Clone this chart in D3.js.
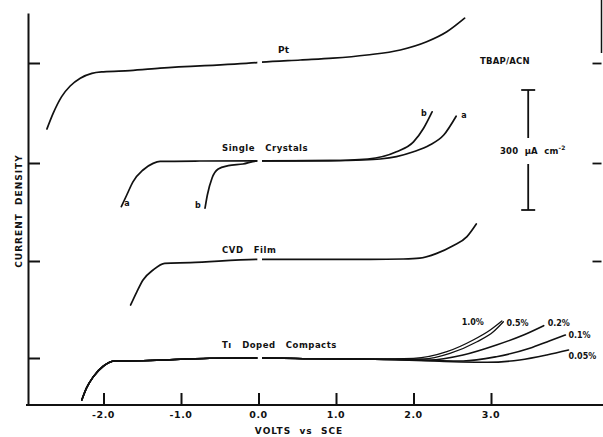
<!DOCTYPE html>
<html><head><meta charset="utf-8">
<script src="https://cdn.jsdelivr.net/npm/d3@7"></script>
<style>
body{margin:0;background:#fff}
svg{display:block}
text{font-family:"DejaVu Sans",Verdana,sans-serif;font-weight:bold;fill:#111;white-space:pre}
</style></head><body>
<svg id="chart" width="603" height="437"></svg>
<script>
// Potential axis, volts vs SCE
const voltTicks = [-2, -1, 0, 1, 2, 3];
const voltTickLabels = ["-2.0", "-1.0", "0.0", "1.0", "2.0", "3.0"];

// Zero-current level of each stacked trace (µA cm^-2 on the shared axis)
const traceOffsets = [855, 605, 360, 117.5];
const rightTickOffsets = [855, 605, 360];

// Pt electrode
const ptVolts   = [-2.73, -2.65, -2.54, -2.43, -2.30, -2.15, -2.00, -1.66, -1.27, -0.02, 0.04, 0.54, 0.96, 1.40, 1.83, 2.17, 2.43, 2.66];
const ptCurrent = [-165, -126, -84, -57.5, -38, -26, -22, -19, -13, 1, 2, 7.5, 12, 20, 32.5, 53, 78, 112];

// Single crystals, samples a and b
const scAVolts   = [-1.77, -1.70, -1.62, -1.49, -1.36, -1.27, -0.76, 0.92, 1.35, 1.57, 1.78, 2.00, 2.21, 2.39, 2.55];
const scACurrent = [-109, -80, -47, -17.5, -1, 4, 5, 6, 7.5, 10, 16, 28, 45, 70, 117];
const scBVolts   = [-0.69, -0.66, -0.60, -0.52, -0.39, -0.20, -0.02, 0.92, 1.41, 1.78, 2.00, 2.13, 2.24];
const scBCurrent = [-113, -80, -38, -15, -6.75, -2.5, 5, 6, 10, 28, 53, 87, 128];

// CVD film
const cvdVolts   = [-1.65, -1.57, -1.49, -1.36, -1.21, -0.88, -0.02, 1.44, 1.87, 2.08, 2.30, 2.51, 2.69, 2.81];
const cvdCurrent = [-110, -77, -47.5, -22.5, -5.75, -4.25, 4, 4, 5, 7, 19, 38, 61, 92.5];

// Ti doped compacts: common cathodic branch, then one anodic tail per doping level
const dopedVolts   = [-2.28, -2.22, -2.13, -2.00, -1.85, -1.49, -0.63, -0.02, 0.80, 1.50];
const dopedCurrent = [-105, -75.5, -46.5, -20, -7.5, -6.75, -0.75, 0, -2, -3];
const dopingLevels = ["1.0%", "0.5%", "0.2%", "0.1%", "0.05%"];
const tailVolts = [
  [2.00, 2.43, 2.77, 2.99, 3.14],
  [2.13, 2.47, 2.82, 3.03, 3.16],
  [2.21, 2.64, 3.07, 3.42, 3.68],
  [2.64, 3.07, 3.50, 3.76, 3.96],
  [2.95, 3.37, 3.72, 4.00]
];
const tailCurrent = [
  [-1, 15.75, 45, 70, 92.5],
  [-2.5, 11.75, 40.75, 65.75, 90.75],
  [-5, 7.5, 32.5, 57.5, 80.75],
  [-7.5, 3.25, 24.25, 43.25, 57.5],
  [-10.75, -5, 7.5, 20]
];

// Scale bar
const scaleBarValue = 300;

const W = 603, H = 437;
const svg = d3.select("#chart");
const ink = "#111";

const x = d3.scaleLinear().domain([-2, 3]).range([103.5, 491]);
const y = d3.scaleLinear().domain([0, 980]).range([405, 13]);

const line = d3.line()
  .x(d => x(d[0]))
  .y(d => y(d[1]))
  .curve(d3.curveMonotoneX);

const pts = (vs, is, off) => vs.map((v, i) => [v, is[i] + off]);

// traces are interrupted at 0 V
const defs = svg.append("defs");
const clip = defs.append("clipPath").attr("id", "zeroGap");
clip.append("rect").attr("x", 0).attr("y", 0).attr("width", x(-0.015)).attr("height", H);
clip.append("rect").attr("x", x(0.045)).attr("y", 0).attr("width", W - x(0.045)).attr("height", H);

// ---- axes ----
// left axis, ticks pointing inward
const leftAxis = svg.append("g")
  .attr("transform", "translate(28,0)")
  .call(d3.axisRight(y).tickValues(traceOffsets).tickSize(12).tickSizeOuter(0).tickFormat(""));
leftAxis.selectAll("path,line").attr("stroke", ink).attr("stroke-width", 2);

// bottom axis line, ticks pointing up
svg.append("line").attr("x1", 26).attr("x2", W).attr("y1", y(0)).attr("y2", y(0))
  .attr("stroke", ink).attr("stroke-width", 2);
const bottomAxis = svg.append("g")
  .attr("transform", `translate(0,${y(0)})`)
  .call(d3.axisTop(x).tickValues(voltTicks).tickSize(12).tickSizeOuter(0).tickFormat(""));
bottomAxis.select(".domain").remove();
bottomAxis.selectAll("line").attr("stroke", ink).attr("stroke-width", 2);

svg.append("g").selectAll("text").data(voltTicks).join("text")
  .attr("x", d => x(d)).attr("y", y(0) + 13)
  .attr("text-anchor", "middle").attr("font-size", 9.5).attr("letter-spacing", 0.6)
  .text((d, i) => voltTickLabels[i]);

// right frame edge
const rightAxis = svg.append("g")
  .attr("transform", `translate(${W - 1.5},0)`)
  .call(d3.axisLeft(y).tickValues(rightTickOffsets).tickSize(9).tickSizeOuter(0).tickFormat(""));
rightAxis.select(".domain").remove();
rightAxis.selectAll("line").attr("stroke", ink).attr("stroke-width", 1.8);
svg.append("line").attr("x1", W - 1.5).attr("x2", W - 1.5).attr("y1", 0).attr("y2", y(880))
  .attr("stroke", ink).attr("stroke-width", 1.5);

// axis titles
svg.append("text").attr("x", 299).attr("y", 434).attr("text-anchor", "middle")
  .attr("font-size", 9).attr("letter-spacing", 1)
  .text("VOLTS  vs  SCE");
svg.append("text")
  .attr("transform", "translate(22,211) rotate(-90)")
  .attr("text-anchor", "middle").attr("font-size", 9).attr("letter-spacing", 1)
  .text("CURRENT  DENSITY");

// ---- traces ----
const curves = svg.append("g").attr("clip-path", "url(#zeroGap)")
  .attr("fill", "none").attr("stroke", ink).attr("stroke-width", 1.7)
  .attr("stroke-linejoin", "round").attr("stroke-linecap", "round");

curves.append("path").attr("d", line(pts(ptVolts, ptCurrent, traceOffsets[0])));
curves.append("path").attr("d", line(pts(scAVolts, scACurrent, traceOffsets[1])));
curves.append("path").attr("d", line(pts(scBVolts, scBCurrent, traceOffsets[1])));
curves.append("path").attr("d", line(pts(cvdVolts, cvdCurrent, traceOffsets[2])));

const dopedBase = pts(dopedVolts, dopedCurrent, traceOffsets[3]);
dopingLevels.forEach((lvl, k) => {
  const tail = pts(tailVolts[k], tailCurrent[k], traceOffsets[3]);
  curves.append("path").attr("d", line(dopedBase.concat(tail)))
    .attr("stroke-width", k < 2 ? 1.3 : 1.6);
});

// ---- annotations ----
const label = (vx, vy, txt, opts = {}) => svg.append("text")
  .attr("x", x(vx) + (opts.dx || 0)).attr("y", y(vy) + (opts.dy || 0))
  .attr("text-anchor", opts.anchor || "start")
  .attr("font-size", opts.size || 8.5)
  .attr("letter-spacing", opts.ls !== undefined ? opts.ls : 0.5)
  .text(txt);

label(0.25, traceOffsets[0], "Pt", {dy: -10, size: 9, ls: 0.2});
label(-0.47, traceOffsets[1] + 30, "Single   Crystals");
label(-0.47, traceOffsets[2] + 20, "CVD   Film");
label(-0.47, traceOffsets[3] + 25, "Tı   Doped   Compacts");

// sample letters at the ends of the single-crystal curves
const scA = pts(scAVolts, scACurrent, traceOffsets[1]);
const scB = pts(scBVolts, scBCurrent, traceOffsets[1]);
label(scA[0][0], scA[0][1], "a", {dx: 3, dy: -1, size: 8, ls: 0});
label(scB[0][0], scB[0][1], "b", {dx: -10, dy: 0, size: 8, ls: 0});
label(scA[scA.length - 1][0], scA[scA.length - 1][1], "a", {dx: 5, dy: 2, size: 8, ls: 0});
label(scB[scB.length - 1][0], scB[scB.length - 1][1], "b", {dx: -11, dy: 4, size: 8, ls: 0});

// doping level labels at the tail ends
const tagOffsets = [[-18, 4, "end"], [3, 4, "start"], [4, 0, "start"], [3, 3, "start"], [0, 9, "start"]];
dopingLevels.forEach((lvl, k) => {
  const tv = tailVolts[k], ti = tailCurrent[k];
  const [dx, dy, anchor] = tagOffsets[k];
  label(tv[tv.length - 1], ti[ti.length - 1] + traceOffsets[3], lvl, {dx, dy, anchor, size: 8, ls: 0});
});

// electrolyte
svg.append("text").attr("x", 480).attr("y", 64).attr("font-size", 8.5).attr("letter-spacing", 0.2)
  .text("TBAP/ACN");

// 300 µA cm^-2 scale bar
const barX = x(3.48);
const barBottom = 487.5, barTop = barBottom + scaleBarValue;
const barMid = (barTop + barBottom) / 2;
const bar = svg.append("g").attr("stroke", ink).attr("stroke-width", 1.8);
bar.append("line").attr("x1", barX).attr("x2", barX).attr("y1", y(barTop)).attr("y2", y(barMid) - 12);
bar.append("line").attr("x1", barX).attr("x2", barX).attr("y1", y(barMid) + 14).attr("y2", y(barBottom));
bar.append("line").attr("x1", barX - 7).attr("x2", barX + 7).attr("y1", y(barTop)).attr("y2", y(barTop));
bar.append("line").attr("x1", barX - 7).attr("x2", barX + 7).attr("y1", y(barBottom)).attr("y2", y(barBottom));
const barText = svg.append("text").attr("x", 500).attr("y", y(barMid) + 4)
  .attr("font-size", 8.5).attr("letter-spacing", 0.2);
barText.append("tspan").text(scaleBarValue + "  µA  cm");
barText.append("tspan").attr("dy", -4).attr("font-size", 6).text("-2");
</script>
</body></html>
